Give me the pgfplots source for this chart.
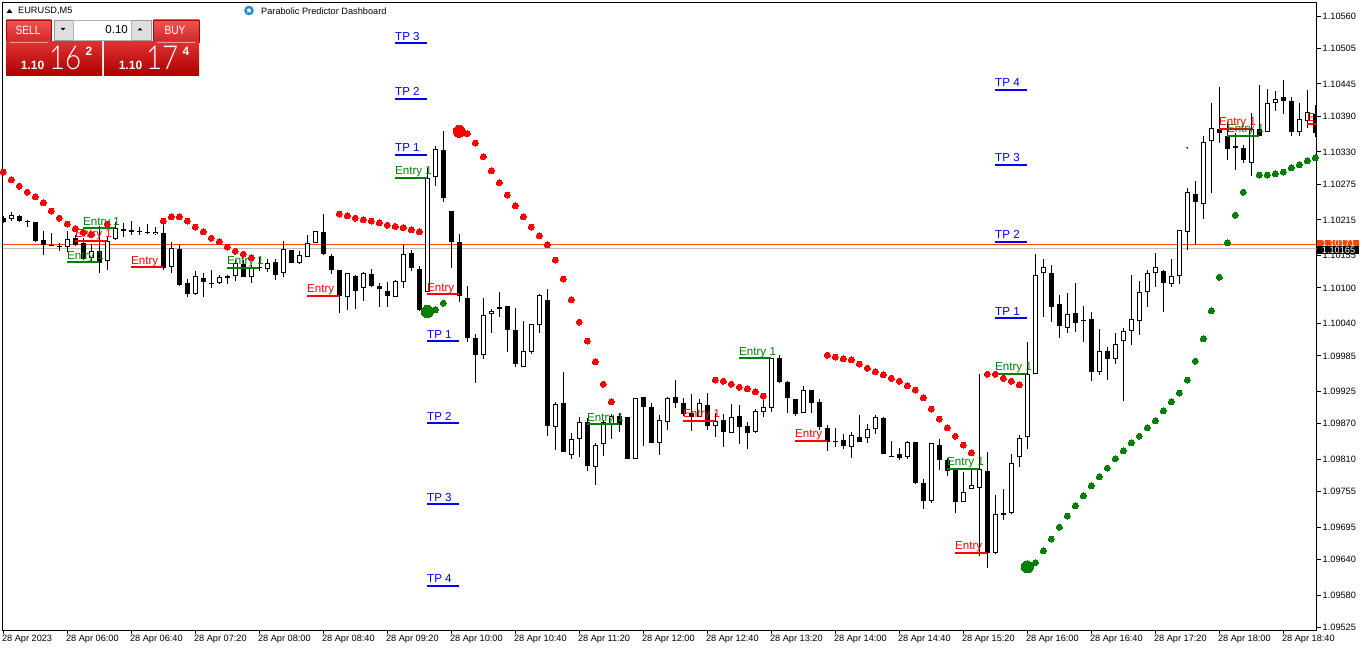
\documentclass[border=0pt]{standalone}
\usepackage{fontspec}
\setmainfont{Liberation Sans}
\newfontfamily\lightfont{Lato Light}
\usepackage{pgfplots}
\usepackage{pgfplotstable}
\pgfplotsset{compat=1.18}
\usetikzlibrary{shapes.geometric}
\definecolor{upred}{RGB}{255,0,0}
\definecolor{dgreen}{RGB}{0,128,0}
\definecolor{pblue}{RGB}{0,0,255}
\definecolor{btnA}{RGB}{240,84,84}
\definecolor{btnB}{RGB}{205,40,40}
\definecolor{pnlA}{RGB}{222,50,50}
\definecolor{pnlB}{RGB}{172,0,0}
\definecolor{spin}{RGB}{222,222,222}

% k high low bodytop bodybottom
\pgfplotstableread{
k h l t b
0 1.10222 1.10210 1.10219 1.10212
2 1.10223 1.10212 1.10222 1.10213
3 1.10215 1.10203 1.10214 1.10212
4 1.10212 1.10178 1.10211 1.10179
5 1.10196 1.10156 1.10181 1.10173
6 1.10193 1.10171 1.10173 1.10172
7 1.10176 1.10162 1.10171 1.10169
9 1.10190 1.10171 1.10184 1.10173
10 1.10184 1.10147 1.10176 1.10149
12 1.10205 1.10125 1.10162 1.10142
15 1.10210 1.10186 1.10199 1.10197
16 1.10213 1.10190 1.10198 1.10195
17 1.10203 1.10190 1.10197 1.10195
18 1.10208 1.10191 1.10195 1.10194
20 1.10218 1.10130 1.10193 1.10134
22 1.10173 1.10103 1.10166 1.10105
23 1.10115 1.10085 1.10108 1.10090
25 1.10125 1.10085 1.10117 1.10110
26 1.10130 1.10100 1.10109 1.10107
30 1.10147 1.10118 1.10140 1.10118
32 1.10152 1.10129 1.10136 1.10134
34 1.10149 1.10113 1.10144 1.10122
36 1.10164 1.10142 1.10164 1.10142
40 1.10225 1.10156 1.10195 1.10157
41 1.10157 1.10124 1.10154 1.10130
42 1.10130 1.10058 1.10130 1.10086
44 1.10122 1.10064 1.10120 1.10095
46 1.10132 1.10102 1.10124 1.10103
47 1.10108 1.10068 1.10103 1.10098
48 1.10110 1.10068 1.10095 1.10086
51 1.10164 1.10129 1.10159 1.10134
52 1.10137 1.10061 1.10132 1.10063
55 1.10365 1.10245 1.10333 1.10252
56 1.10230 1.10134 1.10230 1.10178
57 1.10191 1.10076 1.10178 1.10086
58 1.10103 1.10008 1.10083 1.10015
59 1.10022 1.09939 1.10015 1.09986
62 1.10093 1.10051 1.10068 1.10064
63 1.10069 1.09992 1.10069 1.10029
64 1.10066 1.09966 1.10029 1.09971
68 1.10098 1.09849 1.10080 1.09866
70 1.09958 1.09822 1.09905 1.09822
73 1.09880 1.09790 1.09873 1.09799
77 1.09888 1.09856 1.09883 1.09868
78 1.09882 1.09811 1.09882 1.09811
80 1.09915 1.09833 1.09915 1.09899
81 1.09905 1.09838 1.09899 1.09838
84 1.09944 1.09897 1.09915 1.09905
85 1.09914 1.09883 1.09905 1.09887
86 1.09920 1.09858 1.09888 1.09882
88 1.09922 1.09860 1.09902 1.09866
90 1.09887 1.09831 1.09877 1.09856
92 1.09902 1.09836 1.09883 1.09865
93 1.09873 1.09827 1.09866 1.09855
97 1.09986 1.09939 1.09981 1.09941
98 1.09942 1.09888 1.09941 1.09914
99 1.09912 1.09883 1.09912 1.09887
101 1.09927 1.09888 1.09927 1.09905
102 1.09912 1.09860 1.09907 1.09865
103 1.09868 1.09824 1.09863 1.09839
104 1.09863 1.09831 1.09841 1.09839
105 1.09853 1.09827 1.09843 1.09833
107 1.09885 1.09839 1.09848 1.09839
110 1.09882 1.09819 1.09880 1.09819
111 1.09841 1.09814 1.09816 1.09814
112 1.09829 1.09809 1.09819 1.09812
114 1.09839 1.09768 1.09839 1.09770
115 1.09777 1.09726 1.09770 1.09739
117 1.09844 1.09792 1.09834 1.09809
118 1.09812 1.09782 1.09809 1.09790
119 1.09795 1.09719 1.09795 1.09738
123 1.09822 1.09626 1.09790 1.09651
125 1.09760 1.09707 1.09719 1.09716
131 1.10139 1.10042 1.10125 1.10068
132 1.10088 1.10015 1.10073 1.10036
134 1.10108 1.10025 1.10058 1.10041
135 1.10069 1.10008 1.10046 1.10044
136 1.10059 1.09942 1.10047 1.09958
138 1.10000 1.09944 1.09993 1.09980
145 1.10130 1.10059 1.10129 1.10108
149 1.10281 1.10173 1.10259 1.10245
152 1.10440 1.10345 1.10369 1.10362
153 1.10381 1.10316 1.10357 1.10335
155 1.10342 1.10311 1.10337 1.10316
157 1.10443 1.10357 1.10369 1.10357
160 1.10452 1.10394 1.10423 1.10416
161 1.10423 1.10357 1.10416 1.10364
164 1.10409 1.10355 1.10394 1.10362
}\bear
\pgfplotstableread{
k h l t b
1 1.10228 1.10213 1.10224 1.10217
8 1.10196 1.10161 1.10183 1.10169
11 1.10174 1.10144 1.10163 1.10151
13 1.10186 1.10130 1.10179 1.10146
14 1.10212 1.10181 1.10201 1.10183
19 1.10203 1.10190 1.10195 1.10191
21 1.10178 1.10125 1.10168 1.10135
24 1.10129 1.10088 1.10120 1.10090
27 1.10122 1.10107 1.10118 1.10108
28 1.10122 1.10107 1.10120 1.10117
29 1.10147 1.10112 1.10142 1.10120
31 1.10139 1.10108 1.10135 1.10118
33 1.10149 1.10127 1.10142 1.10132
35 1.10179 1.10118 1.10166 1.10125
37 1.10162 1.10140 1.10156 1.10142
38 1.10190 1.10152 1.10176 1.10152
39 1.10196 1.10176 1.10196 1.10176
43 1.10125 1.10063 1.10125 1.10085
45 1.10127 1.10078 1.10125 1.10100
49 1.10113 1.10085 1.10112 1.10085
50 1.10173 1.10100 1.10157 1.10110
53 1.10303 1.10093 1.10286 1.10093
54 1.10340 1.10272 1.10335 1.10288
60 1.10083 1.09980 1.10054 1.09986
61 1.10064 1.10024 1.10061 1.10056
65 1.10044 1.09966 1.09993 1.09966
66 1.10039 1.09988 1.10039 1.09992
67 1.10090 1.10024 1.10088 1.10037
69 1.09907 1.09826 1.09904 1.09865
71 1.09855 1.09811 1.09844 1.09817
72 1.09882 1.09814 1.09873 1.09844
74 1.09838 1.09767 1.09834 1.09797
75 1.09877 1.09816 1.09873 1.09836
76 1.09887 1.09844 1.09883 1.09868
79 1.09914 1.09811 1.09914 1.09811
82 1.09885 1.09817 1.09877 1.09838
83 1.09915 1.09860 1.09914 1.09873
87 1.09912 1.09882 1.09905 1.09882
89 1.09888 1.09848 1.09875 1.09866
91 1.09904 1.09855 1.09882 1.09855
94 1.09895 1.09855 1.09892 1.09856
95 1.09914 1.09882 1.09899 1.09890
96 1.09981 1.09890 1.09981 1.09897
100 1.09934 1.09888 1.09927 1.09888
106 1.09856 1.09812 1.09851 1.09831
108 1.09870 1.09838 1.09861 1.09846
109 1.09885 1.09853 1.09882 1.09861
113 1.09841 1.09811 1.09839 1.09814
116 1.09838 1.09736 1.09838 1.09739
120 1.09789 1.09738 1.09755 1.09738
121 1.09795 1.09760 1.09767 1.09760
122 1.09954 1.09646 1.09794 1.09761
124 1.09750 1.09650 1.09717 1.09651
126 1.09819 1.09717 1.09804 1.09719
127 1.09851 1.09797 1.09846 1.09814
128 1.10008 1.09827 1.09954 1.09848
129 1.10157 1.09954 1.10122 1.09954
130 1.10149 1.10051 1.10135 1.10125
133 1.10091 1.10024 1.10056 1.10032
137 1.10030 1.09953 1.09993 1.09958
139 1.10024 1.09971 1.10005 1.09980
140 1.10032 1.09909 1.10027 1.10010
141 1.10122 1.10003 1.10047 1.10027
142 1.10112 1.10020 1.10093 1.10044
143 1.10130 1.10068 1.10125 1.10093
144 1.10159 1.10102 1.10135 1.10125
146 1.10149 1.10102 1.10120 1.10107
147 1.10198 1.10107 1.10198 1.10120
148 1.10269 1.10164 1.10262 1.10195
150 1.10357 1.10217 1.10347 1.10242
151 1.10413 1.10261 1.10371 1.10349
154 1.10362 1.10300 1.10340 1.10337
156 1.10396 1.10289 1.10369 1.10311
158 1.10437 1.10364 1.10413 1.10364
159 1.10433 1.10399 1.10420 1.10413
162 1.10413 1.10357 1.10386 1.10364
163 1.10435 1.10371 1.10398 1.10382
}\bull
\pgfplotstableread{
k y
0 1.10296
1 1.10283
2 1.10272
3 1.10262
4 1.10254
5 1.10244
6 1.10230
7 1.10218
8 1.10208
9 1.10200
10 1.10194
11 1.10190
13 1.10208
20 1.10213
21 1.10220
22 1.10220
23 1.10213
24 1.10203
25 1.10195
26 1.10184
27 1.10178
28 1.10169
29 1.10162
30 1.10157
31 1.10151
42 1.10225
43 1.10222
44 1.10218
45 1.10215
46 1.10213
47 1.10210
48 1.10206
49 1.10204
50 1.10202
51 1.10198
52 1.10195
58 1.10361
59 1.10345
60 1.10322
61 1.10298
62 1.10278
63 1.10257
64 1.10239
65 1.10220
66 1.10203
67 1.10188
68 1.10173
69 1.10147
70 1.10115
71 1.10080
72 1.10042
73 1.10010
74 1.09975
75 1.09937
76 1.09907
89 1.09944
90 1.09942
91 1.09937
92 1.09932
93 1.09929
94 1.09924
95 1.09917
103 1.09986
104 1.09983
105 1.09980
106 1.09978
107 1.09971
108 1.09964
109 1.09958
110 1.09953
111 1.09947
112 1.09942
113 1.09934
114 1.09927
115 1.09914
116 1.09895
117 1.09878
118 1.09863
119 1.09849
120 1.09834
121 1.09821
123 1.09954
124 1.09954
125 1.09947
126 1.09942
127 1.09936
}\reddots
\pgfplotstableread{
k y
54 1.10063
55 1.10074
129 1.09635
130 1.09655
131 1.09675
132 1.09695
133 1.09714
134 1.09731
135 1.09748
136 1.09765
137 1.09780
138 1.09795
139 1.09811
140 1.09824
141 1.09838
142 1.09849
143 1.09863
144 1.09875
145 1.09892
146 1.09907
147 1.09922
148 1.09944
149 1.09976
150 1.10014
151 1.10061
152 1.10118
153 1.10176
154 1.10223
155 1.10262
157 1.10291
158 1.10291
159 1.10293
160 1.10296
161 1.10303
162 1.10308
163 1.10315
164 1.10320
}\greendots
% level segments: start k, price, length in candles
\pgfplotstableread{
k y w
10 1.10201 4
28 1.10134 4
8 1.10143 4
49 1.10286 4
73 1.09869 4
92 1.09981 4
118 1.09794 4
124 1.09955 4
153 1.10357 4
}\greenlines
\pgfplotstableread{
k y w
9 1.10180 4
16 1.10135 4
38 1.10087 4
53 1.10089 4
85 1.09875 4
99 1.09841 4
119 1.09652 4
152 1.10369 4
163 1.10377 1.2
}\redlines
\pgfplotstableread{
k y w
49 1.10514 4
49 1.10420 4
49 1.10325 4
53 1.10010 4
53 1.09871 4
53 1.09734 4
53 1.09596 4
124 1.10435 4
124 1.10308 4
124 1.10178 4
124 1.10049 4
}\bluelines

\pgfplotsset{nomark/.style={only marks,mark=*,mark size=0pt,mark options={draw=none,fill=none},forget plot}}
\newcommand{\lab}[4]{\node[anchor=base west,inner sep=0pt,text=#3,font=\fontsize{11.6}{12}\selectfont,yshift=3pt,xshift=-0.3pt] at (axis cs:#1,#2) {#4};}
\newcommand{\levels}[2]{\addplot[#1,nomark,error bars/.cd,x dir=plus,x explicit,error mark=none,error bar style={#1,line width=2pt}] table[x=k,y=y,x error=w] {#2};}

\begin{document}
\begin{tikzpicture}[x=1pt,y=1pt]
\useasboundingbox (0,0) rectangle (1362,651);
\begin{axis}[
  at={(2.5pt,21pt)},anchor=south west,
  scale only axis,width=1314pt,height=627.5pt,
  xmin=-0.1,xmax=164.15,ymin=1.095211,ymax=1.105829,
  axis line style={line width=1pt},
  tick style={black,line width=1pt},
  tick align=outside,major tick length=4pt,
  xtick pos=bottom,ytick pos=right,yticklabel pos=right,
  xtick={0,8,...,160},
  xticklabels={28 Apr 2023,28 Apr 06:00,28 Apr 06:40,28 Apr 07:20,28 Apr 08:00,28 Apr 08:40,28 Apr 09:20,28 Apr 10:00,28 Apr 10:40,28 Apr 11:20,28 Apr 12:00,28 Apr 12:40,28 Apr 13:20,28 Apr 14:00,28 Apr 14:40,28 Apr 15:20,28 Apr 16:00,28 Apr 16:40,28 Apr 17:20,28 Apr 18:00,28 Apr 18:40},
  ytick={1.10560,1.10505,1.10445,1.10390,1.10330,1.10275,1.10215,1.10155,1.10100,1.10040,1.09985,1.09925,1.09870,1.09810,1.09755,1.09695,1.09640,1.09580,1.09525},
  yticklabels={1.10560,1.10505,1.10445,1.10390,1.10330,1.10275,1.10215,1.10155,1.10100,1.10040,1.09985,1.09925,1.09870,1.09810,1.09755,1.09695,1.09640,1.09580,1.09525},
  xticklabel style={anchor=north west,inner sep=0pt,xshift=-1.5pt,yshift=-1pt,font=\fontsize{9.2}{10}\selectfont},
  yticklabel style={anchor=west,inner sep=0pt,xshift=2pt,font=\fontsize{9.2}{10}\selectfont},
  clip=true,
]
% current price lines
\addplot[color={rgb,255:red,255;green,69;blue,0},line width=1pt,forget plot] coordinates {(-0.1,1.10173) (164.15,1.10173)};
\addplot[color={rgb,255:red,192;green,192;blue,192},line width=1pt,forget plot] coordinates {(-0.1,1.10166) (164.15,1.10166)};
% wicks
\addplot[black,nomark,error bars/.cd,y dir=plus,y explicit,error mark=none,error bar style={black,line width=1pt}] table[x=k,y=l,y error plus expr=\thisrow{h}-\thisrow{l}] {\bear};
\addplot[black,nomark,error bars/.cd,y dir=plus,y explicit,error mark=none,error bar style={black,line width=1pt}] table[x=k,y=l,y error plus expr=\thisrow{h}-\thisrow{l}] {\bull};
% bodies
\addplot[black,nomark,error bars/.cd,y dir=plus,y explicit,error mark=none,error bar style={black,line width=5pt}] table[x=k,y=b,y error plus expr=\thisrow{t}-\thisrow{b}] {\bear};
\addplot[black,nomark,error bars/.cd,y dir=plus,y explicit,error mark=none,error bar style={black,line width=5pt}] table[x=k,y=b,y error plus expr=\thisrow{t}-\thisrow{b}] {\bull};
\addplot[white,nomark,error bars/.cd,y dir=plus,y explicit,error mark=none,error bar style={white,line width=3pt}] table[x=k,y expr=\thisrow{b}+0.0000169,y error plus expr={max(\thisrow{t}-\thisrow{b}-0.0000338,0)}] {\bull};
% dots
\addplot[only marks,mark=*,mark size=3pt,mark options={draw=upred,fill=upred,line width=0pt},forget plot] table[x=k,y=y] {\reddots};
\addplot[only marks,mark=*,mark size=3pt,mark options={draw=dgreen,fill=dgreen,line width=0pt},forget plot] table[x=k,y=y] {\greendots};
\addplot[only marks,mark=*,mark size=6pt,mark options={draw=upred,fill=upred,line width=0pt},forget plot] coordinates {(57,1.10365)};
\addplot[only marks,mark=*,mark size=6pt,mark options={draw=dgreen,fill=dgreen,line width=0pt},forget plot] coordinates {(53,1.10060) (128,1.09628)};
\addplot[only marks,mark=*,mark size=0.5pt,mark options={draw=dgreen,fill=dgreen,line width=0pt},forget plot] coordinates {(148,1.10337)};
% levels
\levels{dgreen}{\greenlines}
\levels{upred}{\redlines}
\levels{pblue}{\bluelines}
% level labels
\lab{10}{1.10201}{dgreen}{Entry 1}
\lab{28}{1.10134}{dgreen}{Entry 1}
\lab{8}{1.10143}{dgreen}{Entry 1}
\lab{49}{1.10286}{dgreen}{Entry 1}
\lab{73}{1.09869}{dgreen}{Entry 1}
\lab{92}{1.09981}{dgreen}{Entry 1}
\lab{118}{1.09794}{dgreen}{Entry 1}
\lab{124}{1.09955}{dgreen}{Entry 1}
\lab{153}{1.10357}{dgreen}{Entry 1}
\lab{9}{1.10180}{upred}{Entry 1}
\lab{16}{1.10135}{upred}{Entry}
\lab{38}{1.10087}{upred}{Entry}
\lab{53}{1.10089}{upred}{Entry}
\lab{85}{1.09875}{upred}{Entry 1}
\lab{99}{1.09841}{upred}{Entry}
\lab{119}{1.09652}{upred}{Entry}
\lab{152}{1.10369}{upred}{Entry 1}
\lab{163}{1.10377}{upred}{E}
\lab{49}{1.10514}{pblue}{TP 3}
\lab{49}{1.10420}{pblue}{TP 2}
\lab{49}{1.10325}{pblue}{TP 1}
\lab{53}{1.10010}{pblue}{TP 1}
\lab{53}{1.09871}{pblue}{TP 2}
\lab{53}{1.09734}{pblue}{TP 3}
\lab{53}{1.09596}{pblue}{TP 4}
\lab{124}{1.10435}{pblue}{TP 4}
\lab{124}{1.10308}{pblue}{TP 3}
\lab{124}{1.10178}{pblue}{TP 2}
\lab{124}{1.10049}{pblue}{TP 1}
\end{axis}
% price tags
\fill[color={rgb,255:red,255;green,69;blue,0}] (1317,411) rectangle (1359,405);
\node[text=white,font=\fontsize{9.2}{10}\selectfont,inner sep=0pt] at (1338.5,408) {1.10171};
\fill[black] (1317,405.3) rectangle (1359,396.7);
\node[text=white,font=\fontsize{9.2}{10}\selectfont,inner sep=0pt] at (1338.5,401) {1.10165};
% header
\fill[black] (6.5,638) -- (12.5,638) -- (9.5,642) -- cycle;
\node[anchor=west,inner sep=0pt,font=\fontsize{9.2}{10}\selectfont] at (18,640) {EURUSD,M5};
\fill[color={rgb,255:red,30;green,136;blue,208}] (249,640.5) circle (4.8);
\node[star,star points=5,star point ratio=2.2,fill=white,inner sep=0pt,minimum size=6pt] at (249,640.5) {};
\node[anchor=west,inner sep=0pt,font=\fontsize{9.2}{10}\selectfont] at (261,640) {Parabolic Predictor Dashboard};
% trade panel
\shade[top color=btnA,bottom color=btnB,draw=pnlB] (6.5,631) rectangle (51.5,609);
\shade[top color=btnA,bottom color=btnB,draw=pnlB] (153.5,631) rectangle (199,609);
\shade[top color=pnlA,bottom color=pnlB] (6,609) rectangle (102,575);
\shade[top color=pnlA,bottom color=pnlB] (104,609) rectangle (199,575);
\draw[color={rgb,255:red,240;green,150;blue,150},line width=0.7pt] (10,609) -- (48,609);
\draw[color={rgb,255:red,240;green,150;blue,150},line width=0.7pt] (157,609) -- (195,609);
\fill[spin,draw=gray!80] (54,631) rectangle (151,611);
\fill[white,draw=gray!60] (73.5,631) rectangle (131.5,611);
\fill[black] (60.5,623) -- (65.5,623) -- (63,620.5) -- cycle;
\fill[black] (137.5,620.5) -- (142.5,620.5) -- (140,623) -- cycle;
\node[anchor=east,inner sep=0pt,font=\fontsize{11.5}{12}\selectfont] at (128,621) {0.10};
\node[text=white,inner sep=0pt,xscale=0.85,font=\fontsize{12}{13}\selectfont] at (28,620.5) {SELL};
\node[text=white,inner sep=0pt,xscale=0.85,font=\fontsize{12}{13}\selectfont] at (175,620.5) {BUY};
\node[text=white,inner sep=0pt,font=\bfseries\fontsize{12}{13}\selectfont] at (32.5,585.5) {1.10};
\node[text=white,inner sep=0pt,font=\bfseries\fontsize{12}{13}\selectfont] at (130.5,585.5) {1.10};
\node[text=white,inner sep=0pt,anchor=base west,xscale=0.84,font=\lightfont\fontsize{33}{34}\selectfont] at (49,581) {16};
\node[text=white,inner sep=0pt,anchor=base west,xscale=0.84,font=\lightfont\fontsize{33}{34}\selectfont] at (146,581) {17};
\node[text=white,inner sep=0pt,font=\bfseries\fontsize{12}{13}\selectfont] at (89,600) {2};
\node[text=white,inner sep=0pt,font=\bfseries\fontsize{12}{13}\selectfont] at (186,600) {4};
\end{tikzpicture}
\end{document}
